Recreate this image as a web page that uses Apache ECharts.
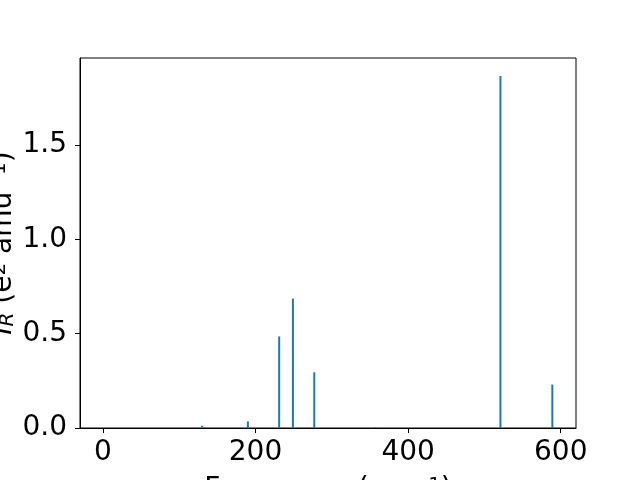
<!DOCTYPE html>
<html>
<head>
<meta charset="utf-8">
<script src="https://cdn.jsdelivr.net/npm/echarts@6/dist/echarts.min.js"></script>
<style>html,body{margin:0;padding:0;background:#fff}#c{width:640px;height:480px}</style>
</head>
<body>
<div id="c"></div>
<script>
const frequencies = [130, 190, 231, 249, 277, 357, 521, 589];
const intensities = [0.012, 0.035, 0.485, 0.685, 0.295, 0.004, 1.865, 0.23];
const xTicks = [0, 200, 400, 600];
const yTicks = [0, 0.5, 1.0, 1.5];

const chart = echarts.init(document.getElementById('c'));
const font = 'DejaVu Sans';
chart.setOption({
  animation: false,
  backgroundColor: '#fff',
  grid: { left: 80, right: 64, top: 58, bottom: 52, containLabel: false, outerBoundsMode: 'none',
          show: true, borderColor: '#000', borderWidth: 1, backgroundColor: 'transparent' },
  xAxis: {
    type: 'value', min: -30, max: 620,
    name: '{t|Frequency (cm}{s|−1}{t|)}',
    nameLocation: 'middle', nameGap: 48,
    nameTextStyle: { rich: { t: { fontFamily: font, fontSize: 28, color: '#000' }, s: { fontFamily: font, fontSize: 20, color: '#000', verticalAlign: 'top' } } },
    axisLine: { show: true, onZero: false, lineStyle: { color: '#000', width: 1 } },
    axisTick: { show: true, length: 5, inside: false, customValues: xTicks, lineStyle: { color: '#000' } },
    axisLabel: { customValues: xTicks, fontFamily: font, fontSize: 28, color: '#000', margin: 11 },
    splitLine: { show: false }
  },
  yAxis: {
    type: 'value', min: 0, max: 1.96,
    name: '{i|I}{b|R}{t| (e}{s|2}{t| amu}{s|−1}{t|)}',
    nameLocation: 'middle', nameGap: 62, nameRotate: 90, nameMoveOverlap: false,
    nameTextStyle: { rich: {
      i: { fontFamily: font, fontSize: 28, color: '#000', fontStyle: 'italic' },
      t: { fontFamily: font, fontSize: 28, color: '#000' },
      b: { fontFamily: font, fontSize: 20, color: '#000', fontStyle: 'italic', verticalAlign: 'bottom' },
      s: { fontFamily: font, fontSize: 20, color: '#000', verticalAlign: 'top' } } },
    axisLine: { show: true, onZero: false, lineStyle: { color: '#000', width: 1 } },
    axisTick: { show: true, length: 5, inside: false, customValues: yTicks, lineStyle: { color: '#000' } },
    axisLabel: { customValues: yTicks, fontFamily: font, fontSize: 28, color: '#000', margin: 13, formatter: v => v.toFixed(1) },
    splitLine: { show: false }
  },
  series: [{
    type: 'bar',
    data: frequencies.map((f, i) => [f, intensities[i]]),
    barWidth: 2,
    itemStyle: { color: '#1f77b4' }
  }]
});
</script>
</body>
</html>
